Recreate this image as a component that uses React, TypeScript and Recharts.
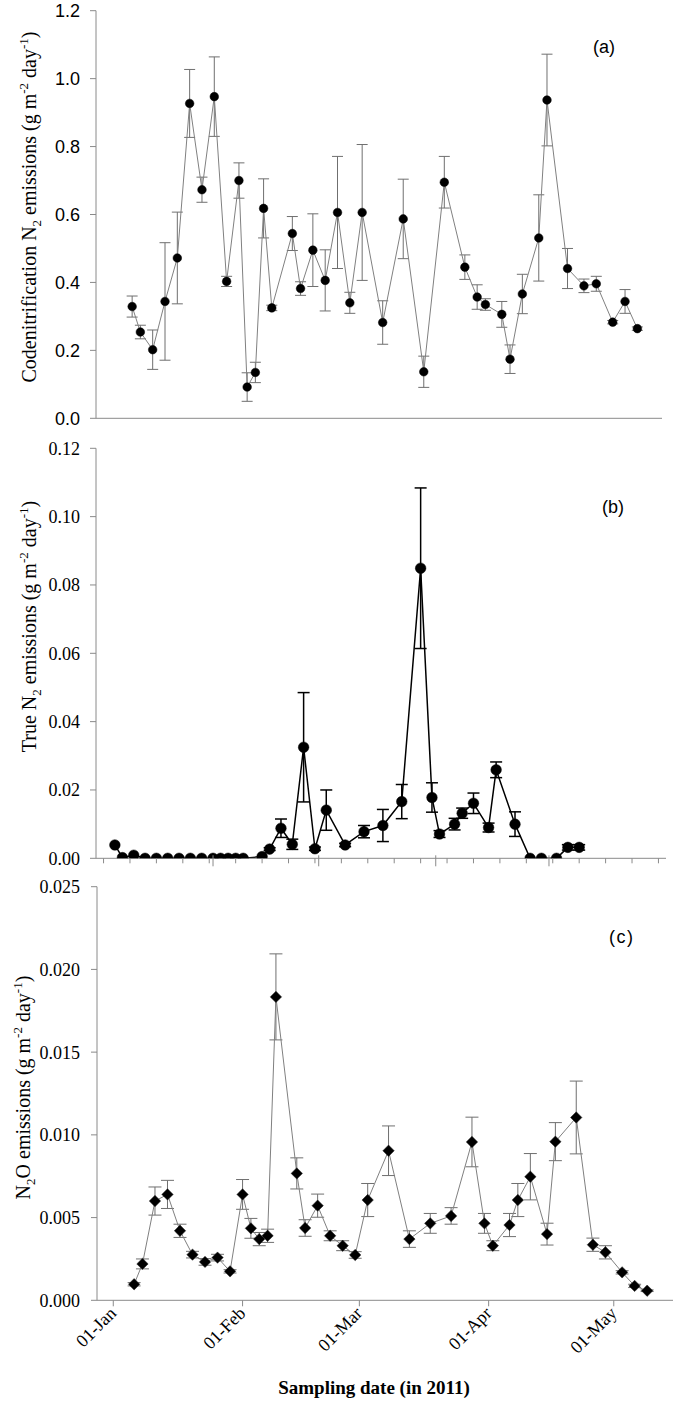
import React from 'react';
import { ComposedChart, Line, XAxis, YAxis, ErrorBar } from 'recharts';

// Sampling days counted from 01-Jan-2011 (day 0)
const sampleDays = [5, 7, 10, 13, 16, 19, 22, 25, 28, 31, 33, 35, 37, 39, 44, 46, 49, 52, 55, 58, 61, 66, 71, 76, 81, 86, 89, 91, 95, 97, 100, 104, 106, 111, 115, 118, 122, 125, 128];

// (a) Codenitrification N2 emissions (g m-2 day-1)
const codenitN2 = [0.329, 0.254, 0.202, 0.344, 0.472, 0.927, 0.673, 0.947, 0.403, 0.700, 0.092, 0.135, 0.618, 0.325, 0.544, 0.382, 0.495, 0.406, 0.606, 0.340, 0.606, 0.282, 0.587, 0.137, 0.695, 0.445, 0.357, 0.335, 0.306, 0.174, 0.366, 0.531, 0.937, 0.441, 0.390, 0.396, 0.283, 0.344, 0.264];
const codenitN2Err = [0.031, 0.020, 0.058, 0.173, 0.135, 0.100, 0.037, 0.117, 0.015, 0.052, 0.042, 0.030, 0.087, 0.008, 0.050, 0.020, 0.107, 0.090, 0.165, 0.031, 0.200, 0.064, 0.117, 0.046, 0.076, 0.036, 0.036, 0.017, 0.038, 0.042, 0.058, 0.127, 0.135, 0.059, 0.020, 0.022, 0.005, 0.035, 0.005];

// (b) True N2 emissions (g m-2 day-1)
const trueN2 = [0.0039, 0.0002, 0.0009, 0, 0, 0, 0, 0, 0, 0, 0, 0, 0, 0, 0.0005, 0.0027, 0.0088, 0.0041, 0.0325, 0.0028, 0.0141, 0.0039, 0.0078, 0.0096, 0.0166, 0.0849, 0.0178, 0.0071, 0.0100, 0.0132, 0.0161, 0.0090, 0.0259, 0.0100, 0, 0, 0, 0.0032, 0.0032];
const trueN2Err = [0, 0, 0, 0, 0, 0, 0, 0, 0, 0, 0, 0, 0, 0, 0, 0.0004, 0.0027, 0.0015, 0.0160, 0.0005, 0.0059, 0.0005, 0.0018, 0.0047, 0.0050, 0.0235, 0.0043, 0.0010, 0.0017, 0.0015, 0.0030, 0.0013, 0.0023, 0.0036, 0, 0, 0, 0.0008, 0.0008];

// (c) N2O emissions (g m-2 day-1)
const n2o = [0.00097, 0.0022, 0.0060, 0.0064, 0.0042, 0.00276, 0.00232, 0.00258, 0.00175, 0.0064, 0.00435, 0.0037, 0.0039, 0.01834, 0.00767, 0.00437, 0.00572, 0.0039, 0.0033, 0.00274, 0.00606, 0.00904, 0.0037, 0.00465, 0.0051, 0.00957, 0.00465, 0.0033, 0.00455, 0.00606, 0.00747, 0.0040, 0.00959, 0.01105, 0.00336, 0.0029, 0.00169, 0.00087, 0.00058];
const n2oErr = [0.0001, 0.0003, 0.00085, 0.00085, 0.0004, 0.0002, 0.0002, 0.0002, 0.0001, 0.0009, 0.0006, 0.0004, 0.0004, 0.0026, 0.00094, 0.0005, 0.0007, 0.0003, 0.0003, 0.0002, 0.001, 0.0015, 0.0005, 0.0006, 0.0005, 0.0015, 0.0006, 0.0003, 0.0007, 0.001, 0.0014, 0.00066, 0.00115, 0.0022, 0.0004, 0.0004, 0.0001, 0.0001, 0.00005];

// Axis ticks
const monthTickDays = [0, 31, 59, 90, 120];
const monthTickLabels = ['01-Jan', '01-Feb', '01-Mar', '01-Apr', '01-May'];
const bMajorTickDays = [31, 59, 90, 120];
const bWeeklyTickDays = [2, 9, 16, 23, 30, 37, 44, 51, 58, 65, 72, 79, 86, 93, 100, 107, 114, 121, 128, 135, 142, 149];
const aYTicks = [0, 0.2, 0.4, 0.6, 0.8, 1.0, 1.2];
const bYTicks = [0, 0.02, 0.04, 0.06, 0.08, 0.1, 0.12];
const cYTicks = [0, 0.005, 0.01, 0.015, 0.02, 0.025];

const dataA = sampleDays.map((d, i) => ({ day: d, v: codenitN2[i], e: codenitN2Err[i] }));
const dataB = sampleDays.map((d, i) => ({ day: d, v: trueN2[i], e: trueN2Err[i] }));
const dataC = sampleDays.map((d, i) => ({ day: d, v: n2o[i], e: n2oErr[i] }));
const bTicks = [...bWeeklyTickDays, ...bMajorTickDays].sort((a, b) => a - b);

const SERIF = '"Liberation Serif", "Times New Roman", serif';
const SANS = '"Liberation Sans", Arial, sans-serif';
const AXIS = '#8a8a8a';

const yTitle = (cx: number, cy: number, parts: { t: string; s?: 'sub' | 'sup' }[]) => () => {
  let shift = 0;
  return (
    <text transform={`translate(${cx},${cy}) rotate(-90)`} textAnchor="middle" fontFamily={SERIF} fontSize={20} fill="#000">
      {parts.map((p, i) => {
        const target = p.s === 'sub' ? 5 : p.s === 'sup' ? -8 : 0;
        const dy = target - shift;
        shift = target;
        return (
          <tspan key={i} dy={dy} fontSize={p.s ? 13 : 20}>{p.t}</tspan>
        );
      })}
    </text>
  );
};

const MonthLabelTick = (props: any) => {
  const { x, y, payload } = props;
  const idx = monthTickDays.indexOf(payload.value);
  const label = idx >= 0 ? monthTickLabels[idx] : '';
  const tx = x + 4;
  const ty = y + 14;
  return (
    <g>
      <line x1={x} y1={y} x2={x} y2={y + 6} stroke={AXIS} strokeWidth={1} />
      <text x={tx} y={ty} transform={`rotate(-45, ${tx}, ${ty})`} textAnchor="end" fontFamily={SERIF} fontSize={18} fill="#000">{label}</text>
    </g>
  );
};

const WeeklyTick = (props: any) => {
  const { x, y, payload } = props;
  const major = bMajorTickDays.indexOf(payload.value) >= 0;
  return <line x1={x} y1={major ? y - 3 : y} x2={x} y2={y + (major ? 8 : 5)} stroke={AXIS} strokeWidth={1} />;
};

const DiamondDot = (props: any) => {
  const { cx, cy, index } = props;
  if (cx == null || cy == null) return <g key={`dd-${index}`} />;
  const s = 5.7;
  return <path key={`dd-${index}`} d={`M${cx},${cy - s}L${cx + s},${cy}L${cx},${cy + s}L${cx - s},${cy}Z`} fill="#000" stroke="#222" strokeWidth={0.5} />;
};

const Panel: React.FC<{ top: number; height: number; children: React.ReactNode }> = ({ top, height, children }) => (
  <div style={{ position: 'absolute', left: 0, top, width: 675, height }}>{children}</div>
);

export default function App() {
  return (
    <div style={{ position: 'absolute', left: 0, top: 0, width: 675, height: 1403, background: '#fff' }}>
      {/* Panel (a) */}
      <Panel top={0} height={440}>
        <ComposedChart width={675} height={440} data={dataA} margin={{ top: 10.7, right: 13, bottom: 0, left: 0 }}>
          <XAxis type="number" dataKey="day" domain={[-3.8, 134]} allowDataOverflow ticks={monthTickDays} interval={0}
            tick={false} tickSize={6} height={21.7} stroke={AXIS} />
          <YAxis type="number" domain={[0, 1.2]} allowDataOverflow ticks={aYTicks} interval={0} width={96}
            tickSize={6} tickMargin={10} stroke={AXIS}
            tickFormatter={(v: number) => v.toFixed(1)}
            tick={{ fill: '#000', fontSize: 18, fontFamily: SANS }}
            label={yTitle(36, 207, [{ t: 'Codenitrification N' }, { t: '2', s: 'sub' }, { t: ' emissions (g m' }, { t: '-2', s: 'sup' }, { t: ' day' }, { t: '-1', s: 'sup' }, { t: ')' }])} />
          <Line dataKey="v" stroke="#808080" strokeWidth={1} isAnimationActive={false} activeDot={false}
            dot={{ r: 4.3, fill: '#000', stroke: '#000', strokeWidth: 0.5 }}>
            <ErrorBar dataKey="e" direction="y" width={5.5} stroke="#6f6f6f" strokeWidth={1} isAnimationActive={false} />
          </Line>
        </ComposedChart>
      </Panel>

      {/* Panel (b) */}
      <Panel top={430} height={440}>
        <ComposedChart width={675} height={440} data={dataB} margin={{ top: 18.3, right: 9, bottom: 0, left: 0 }}>
          <XAxis type="number" dataKey="day" domain={[0, 151]} allowDataOverflow ticks={bTicks} interval={0}
            tick={<WeeklyTick />} tickLine={false} tickSize={0} tickMargin={0} height={11.7} stroke={AXIS} />
          <YAxis type="number" domain={[0, 0.12]} allowDataOverflow ticks={bYTicks} interval={0} width={96}
            tickSize={6} tickMargin={10} stroke={AXIS}
            tickFormatter={(v: number) => v.toFixed(2)}
            tick={{ fill: '#000', fontSize: 18, fontFamily: SERIF }}
            label={yTitle(36, 196.5, [{ t: 'True N' }, { t: '2', s: 'sub' }, { t: ' emissions (g m' }, { t: '-2', s: 'sup' }, { t: ' day' }, { t: '-1', s: 'sup' }, { t: ')' }])} />
          <Line dataKey="v" stroke="#000" strokeWidth={1.5} isAnimationActive={false} activeDot={false}
            dot={{ r: 5.3, fill: '#000', stroke: '#000', strokeWidth: 0.5 }}>
            <ErrorBar dataKey="e" direction="y" width={6} stroke="#000" strokeWidth={1.5} isAnimationActive={false} />
          </Line>
        </ComposedChart>
      </Panel>

      {/* Panel (c) */}
      <Panel top={870} height={533}>
        <ComposedChart width={675} height={533} data={dataC} margin={{ top: 16.7, right: 2, bottom: 0, left: 0 }}>
          <XAxis type="number" dataKey="day" domain={[-3.9, 134.2]} allowDataOverflow ticks={monthTickDays} interval={0}
            tick={<MonthLabelTick />} tickLine={false} tickSize={0} tickMargin={0} height={102.7} stroke={AXIS}
            label={() => (
              <text x={374} y={524} textAnchor="middle" fontFamily={SERIF} fontWeight="bold" fontSize={19} fill="#000">Sampling date (in 2011)</text>
            )} />
          <YAxis type="number" domain={[0, 0.025]} allowDataOverflow ticks={cYTicks} interval={0} width={97}
            tickSize={6} tickMargin={11} stroke={AXIS}
            tickFormatter={(v: number) => v.toFixed(3)}
            tick={{ fill: '#000', fontSize: 18, fontFamily: SERIF }}
            label={yTitle(30, 217.5, [{ t: 'N' }, { t: '2', s: 'sub' }, { t: 'O emissions (g m' }, { t: '-2', s: 'sup' }, { t: ' day' }, { t: '-1', s: 'sup' }, { t: ')' }])} />
          <Line dataKey="v" stroke="#808080" strokeWidth={1} isAnimationActive={false} activeDot={false}
            dot={DiamondDot}>
            <ErrorBar dataKey="e" direction="y" width={6.5} stroke="#6f6f6f" strokeWidth={1} isAnimationActive={false} />
          </Line>
        </ComposedChart>
      </Panel>

      {/* Panel letters */}
      <svg width={675} height={1403} style={{ position: 'absolute', left: 0, top: 0, pointerEvents: 'none' }}>
        <text x={593} y={53} fontFamily={SANS} fontSize={18} fill="#000">(a)</text>
        <text x={602} y={513} fontFamily={SANS} fontSize={18} fill="#000">(b)</text>
        <text x={609} y={943} fontFamily={SANS} fontSize={18} letterSpacing={1.5} fill="#000">(c)</text>
      </svg>
    </div>
  );
}
